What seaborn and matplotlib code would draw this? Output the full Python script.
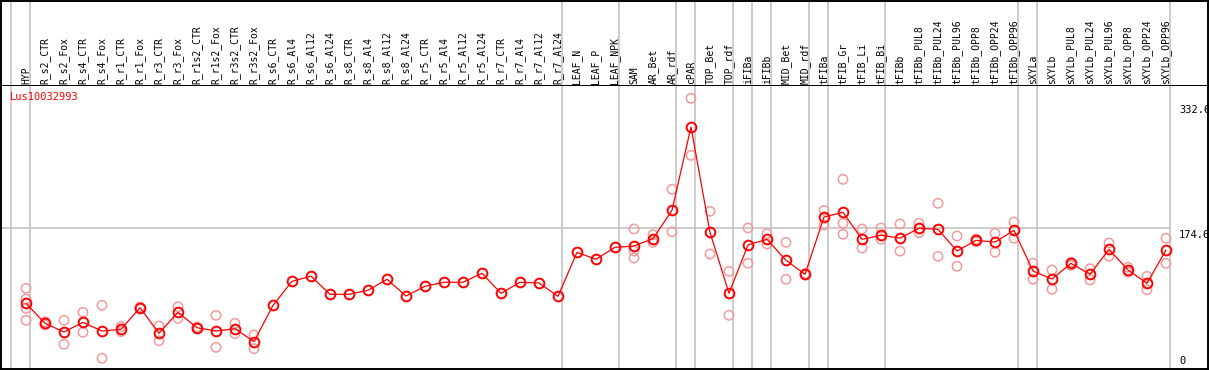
import numpy as np
import pandas as pd
import matplotlib
matplotlib.use("Agg")
import matplotlib.pyplot as plt
import seaborn as sns

categories = ["HYP", "R_s2_CTR", "R_s2_Fox", "R_s4_CTR", "R_s4_Fox", "R_r1_CTR", "R_r1_Fox",
              "R_r3_CTR", "R_r3_Fox", "R_r1s2_CTR", "R_r1s2_Fox", "R_r3s2_CTR", "R_r3s2_Fox",
              "R_s6_CTR", "R_s6_Al4", "R_s6_Al12", "R_s6_Al24", "R_s8_CTR", "R_s8_Al4", "R_s8_Al12",
              "R_s8_Al24", "R_r5_CTR", "R_r5_Al4", "R_r5_Al12", "R_r5_Al24", "R_r7_CTR", "R_r7_Al4",
              "R_r7_Al12", "R_r7_Al24", "LEAF_N", "LEAF_P", "LEAF_NPK", "SAM", "AR_Bet", "AR_rdf",
              "cPAR", "TOP_Bet", "TOP_rdf", "iFIBa", "iFIBb", "MID_Bet", "MID_rdf", "tFIBa",
              "tFIB_Gr", "tFIB_Li", "tFIB_Bi", "tFIBb", "tFIBb_PUL8", "tFIBb_PUL24", "tFIBb_PUL96",
              "tFIBb_OPP8", "tFIBb_OPP24", "tFIBb_OPP96", "sXYLa", "sXYLb", "sXYLb_PUL8",
              "sXYLb_PUL24", "sXYLb_PUL96", "sXYLb_OPP8", "sXYLb_OPP24", "sXYLb_OPP96"]

means = [80.2, 55.0, 44.1, 56.3, 45.3, 47.5, 74.7, 42.4, 68.9, 49.5, 45.3, 48.2, 31.9,
         77.7, 107.9, 114.4, 91.6, 91.6, 96.6, 110.5, 89.4, 101.6, 106.7, 106.7, 118.0,
         92.8, 106.7, 105.8, 89.0, 144.5, 135.6, 150.7, 152.4, 161.6, 197.3, 302.3, 169.6,
         92.8, 153.7, 160.8, 134.4, 116.7, 188.9, 194.8, 160.8, 165.9, 162.3, 174.7, 173.4,
         146.1, 159.5, 157.4, 172.1, 120.9, 110.8, 130.6, 116.7, 148.2, 122.2, 105.4, 147.4]

replicates = [[99.1, 85.6, 73.9, 58.8], [57.0, 53.0], [58.8, 28.6], [68.9, 43.7], [77.7, 11.0],
              [50.8, 44.5], [75.5, 74.0], [51.6, 33.1], [75.9, 61.3], [50.5, 48.5], [65.1, 24.8],
              [55.0, 42.0], [40.3, 23.1],
              [], [], [], [], [], [], [], [], [], [], [], [], [], [], [], [], [], [], [],
              [173.8, 146.1, 137.3], [166.6, 157.0], [223.8, 170.4], [338.4, 266.6],
              [196.1, 142.3], [120.5, 65.1], [175.1, 130.6], [167.9, 154.9], [157.0, 110.5],
              [117.5, 116.0], [197.3, 178.8], [236.4, 181.0, 167.1], [173.8, 149.9],
              [175.1, 160.8], [180.1, 145.9], [181.0, 169.1], [206.2, 139.4], [165.0, 126.8],
              [161.0, 158.0], [168.4, 144.5], [182.6, 162.1], [130.6, 110.5], [122.2, 97.9],
              [132.0, 128.0], [123.8, 109.6], [156.2, 139.4], [125.6, 119.3], [114.2, 97.4],
              [162.1, 130.6]]

separators_after = [-1, 0, 28, 31, 34, 35, 37, 38, 39, 41, 42, 45, 52, 53, 60]
gene = "Lus10032993"
ref_lines = [174.6]
axis_labels = ["332.6", "174.6", "0"]
axis_values = [332.6, 174.6, 0]

df_mean = pd.DataFrame({"idx": np.arange(len(categories)), "value": means})
rows = []
for i, reps in enumerate(replicates):
    for r in reps:
        rows.append((i, r))
df_rep = pd.DataFrame(rows, columns=["idx", "value"])

sns.set_style("white")
plt.rcParams["font.family"] = ["DejaVu Sans Mono"]

W, H = 1209, 370
fig = plt.figure(figsize=(W / 100, H / 100), dpi=100)

def px_to_fig(x0, y0, x1, y1):
    return [x0 / W, 1 - y1 / H, (x1 - x0) / W, (y1 - y0) / H]

x0_px, x1_px = 1, 1207.5
step, first = 19.0, 26.0
xlim = ((x0_px - first) / step, (x1_px - first) / step)
grid_right = (1170 - first) / step

# label band
band = fig.add_axes(px_to_fig(x0_px, 0.5, x1_px, 85.5))
band.set_xlim(*xlim)
band.set_ylim(0, 85)
for s in band.spines.values():
    s.set_color("black")
    s.set_linewidth(1.4)
band.set_xticks([])
band.set_yticks([])
for sep in separators_after:
    band.axvline(sep + 0.21, color="#c4c4c4", lw=1.2, zorder=0)
for i, c in enumerate(categories):
    band.text(i, 2, c, rotation=90, ha="center", va="bottom", fontsize=7, color="black")

# main plot
ax = fig.add_axes(px_to_fig(x0_px, 85.5, x1_px, 368.5))
ax.set_xlim(*xlim)
ax.set_ylim((367 - 368.5) / 0.794, (367 - 85.5) / 0.794)
for s in ax.spines.values():
    s.set_color("black")
    s.set_linewidth(1.4)
ax.spines["top"].set_visible(False)
ax.set_xticks([])
ax.set_yticks([])
ax.set_xlabel("")
ax.set_ylabel("")
for sep in separators_after:
    ax.axvline(sep + 0.21, color="#c4c4c4", lw=1.2, zorder=0)
for v in ref_lines:
    ax.plot([xlim[0], grid_right], [v, v], color="#c4c4c4", lw=1.2, zorder=0)

sns.scatterplot(data=df_rep, x="idx", y="value", marker="o", s=45,
                facecolors="none", edgecolor="#f29b9b", linewidth=1.1, ax=ax, zorder=2)
sns.lineplot(data=df_mean, x="idx", y="value", color="red", lw=0.9,
             marker="o", markersize=7, markerfacecolor="none", markeredgecolor="red",
             markeredgewidth=1.4, ax=ax, zorder=3)
ax.set_xlabel("")
ax.set_ylabel("")

lab_x = (1179 - first) / step
for lab, v in zip(axis_labels, axis_values):
    if v == 0:
        ax.text(lab_x, v + 1.5, lab, ha="left", va="bottom", fontsize=7.5, color="black")
    else:
        ax.text(lab_x, v - 2, lab, ha="left", va="top", fontsize=7.5, color="black")

fig.text(10 / W, 1 - 97 / H, gene, color="red", fontsize=7.5, ha="left", va="center")

fig.savefig("out.png", dpi=100)
